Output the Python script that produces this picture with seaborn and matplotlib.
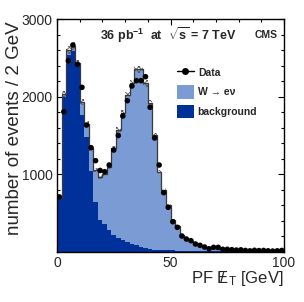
import numpy as np
import pandas as pd
import seaborn as sns
import matplotlib
matplotlib.use("Agg")
import matplotlib.pyplot as plt
from matplotlib.lines import Line2D
from matplotlib.patches import Patch
from matplotlib.ticker import MultipleLocator, FixedLocator

# ---- data (2 GeV bins from 0 to 100 GeV) ----
bin_edges = list(range(0, 102, 2))
background = [690, 2000, 2540, 2590, 2390, 1764, 1480, 1040, 648, 412,
              356, 283, 219, 176, 155, 133, 103, 90, 69, 47,
              35, 28, 26, 24, 22, 20, 18, 16, 15, 14,
              13, 12, 11, 10, 10, 9, 9, 8, 8, 7,
              7, 6, 6, 6, 5, 5, 5, 5, 4, 4]
w_signal = [10, 30, 60, 60, 40, 171, 170, 295, 412, 548,
            644, 817, 1120, 1395, 1630, 1888, 2069, 2260, 2281, 2125,
            1879, 1478, 1008, 776, 583, 392, 317, 203, 155, 126,
            92, 73, 57, 45, 38, 33, 27, 24, 20, 19,
            17, 16, 14, 13, 13, 12, 11, 10, 10, 9]
data_counts = [710, 1806, 2463, 2665, 2416, 2120, 1635, 1343, 1176, 1050,
               1034, 1120, 1313, 1500, 1751, 1948, 2137, 2206, 2206, 2257,
               1863, 1468, 1120, 764, 575, 390, 318, 206, 167, 146,
               103, 86, 64, 42, 60, 60, 35, 35, 30, 25,
               28, 20, 15, 22, 18, 20, 15, 12, 15, 20]
mc_uncert = [15, 40, 50, 50, 45, 40, 35, 30, 25, 25,
             25, 28, 32, 36, 40, 42, 45, 48, 48, 45,
             40, 32, 22, 18, 14, 10, 8, 6, 5, 4,
             3, 3, 2, 2, 2, 2, 2, 2, 2, 2,
             2, 2, 2, 2, 2, 2, 2, 2, 2, 2]
component_names = ["W \u2192 e\u03bd", "background"]
y_ticks = [1000, 2000, 3000]
x_ticks = [0, 50, 100]

light_blue = "#7b9bd5"
dark_blue = "#00309a"

centers = [0.5 * (a + b) for a, b in zip(bin_edges[:-1], bin_edges[1:])]
total = [s + b for s, b in zip(w_signal, background)]

df = pd.DataFrame({
    "x": centers + centers,
    "w": w_signal + background,
    "comp": [component_names[0]] * len(centers) + [component_names[1]] * len(centers),
})
df_tot = pd.DataFrame({"x": centers, "w": total})
df_data = pd.DataFrame({"x": centers, "y": data_counts})

sns.set_theme(style="ticks")
plt.rcParams["font.family"] = ["Liberation Sans", "DejaVu Sans"]
plt.rcParams["hatch.linewidth"] = 0.6
plt.rcParams["mathtext.fontset"] = "custom"
plt.rcParams["mathtext.rm"] = "Liberation Sans"
plt.rcParams["mathtext.it"] = "Liberation Sans"
plt.rcParams["mathtext.bf"] = "Liberation Sans:bold"

fig = plt.figure(figsize=(3.04, 3.02), dpi=100)
ax = fig.add_axes([57 / 304, 1 - 252 / 302, 227 / 304, 233 / 302])

sns.histplot(data=df, x="x", weights="w", hue="comp", hue_order=component_names,
             multiple="stack", bins=bin_edges, element="bars", linewidth=0,
             palette={component_names[0]: light_blue, component_names[1]: dark_blue},
             alpha=1, legend=False, ax=ax)

# uncertainty band
unc = np.array(mc_uncert, dtype=float)
ax.bar(centers, 2 * unc, bottom=np.array(total) - unc, width=2,
       fill=False, hatch="xxxxxx", edgecolor="#555555", linewidth=0, zorder=3)

# outline of the stack
sns.histplot(data=df_tot, x="x", weights="w", bins=bin_edges, element="step", fill=False,
             color="#3a3a3a", linewidth=0.9, ax=ax, zorder=4)

sns.scatterplot(data=df_data, x="x", y="y", color="black", s=16, edgecolor="none",
                ax=ax, zorder=5, legend=False)

ax.set_xlim(0, 100)
ax.set_ylim(0, 3000)
ax.xaxis.set_major_locator(FixedLocator(x_ticks))
ax.xaxis.set_minor_locator(MultipleLocator(10))
ax.yaxis.set_major_locator(FixedLocator(y_ticks))
ax.yaxis.set_minor_locator(MultipleLocator(200))
ax.tick_params(which="both", direction="in", top=True, right=True, labelsize=10,
               width=0.8, color="black", pad=3)
ax.tick_params(which="major", length=4)
ax.tick_params(which="minor", length=2.2)
for s in ax.spines.values():
    s.set_linewidth(1.0)
    s.set_color("black")

ax.set_ylabel("number of events / 2 GeV", fontsize=13.5)
ax.yaxis.set_label_coords(-0.15, 0.53)
ax.set_xlabel(r"PF $\mathregular{\,/\!\!\!E_T}$ [GeV]", fontsize=12, loc="right")
ax.xaxis.set_label_coords(1.0, -0.075)

ax.text(0.489, 0.93, r"36 pb$^{\mathbf{-1}}$  at  $\sqrt{\mathbf{s}}$ = 7 TeV",
        transform=ax.transAxes, ha="center", va="center", fontsize=9, fontweight="bold")
ax.text(0.923, 0.93, "CMS", transform=ax.transAxes, ha="center", va="center",
        fontsize=7.5, fontweight="bold")

handles = [Line2D([0], [0], color="black", marker="o", markersize=4, lw=1),
           Patch(facecolor=light_blue, edgecolor="none"),
           Patch(facecolor=dark_blue, edgecolor="none")]
ax.legend(handles, ["Data"] + component_names, loc="upper left",
          bbox_to_anchor=(0.51, 0.815), frameon=False, prop={"weight": "bold", "size": 7.5},
          handlelength=1.6, handleheight=1.6, labelspacing=0.55, handletextpad=0.4,
          borderaxespad=0)

fig.savefig("out.png", dpi=100)
